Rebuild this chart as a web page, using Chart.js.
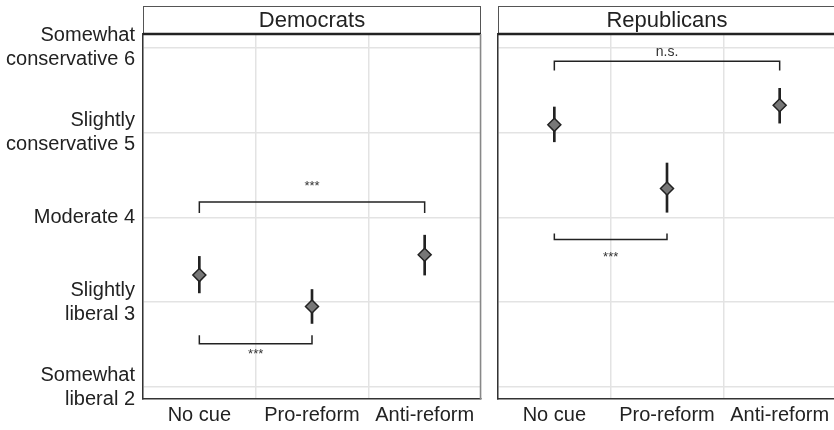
<!DOCTYPE html>
<html>
<head>
<meta charset="utf-8">
<script src="https://cdn.jsdelivr.net/npm/chart.js@4.4.0/dist/chart.umd.min.js"></script>
<style>
  html, body { margin: 0; padding: 0; background: #fff; overflow: hidden; width: 834px; height: 430px; }
  canvas { position: absolute; top: 0; }
  #dem { left: 0; }
  #rep { left: 490px; }
</style>
</head>
<body>
<canvas id="dem" width="490" height="430"></canvas>
<canvas id="rep" width="346" height="430"></canvas>
<script>
const cues = ['No cue', 'Pro-reform', 'Anti-reform'];
const yTicks = [2, 3, 4, 5, 6];
const yLabels = [
  ['Somewhat', 'liberal 2'],
  ['Slightly', 'liberal 3'],
  'Moderate 4',
  ['Slightly', 'conservative 5'],
  ['Somewhat', 'conservative 6']
];

const demMean = [3.32, 2.95, 3.56];
const demLow = [3.11, 2.75, 3.32];
const demHigh = [3.54, 3.15, 3.79];

const repMean = [5.09, 4.34, 5.32];
const repLow = [4.89, 4.06, 5.11];
const repHigh = [5.30, 4.64, 5.52];

// [from cue, to cue, bracket level, tick end, label, label level]
const demBrackets = [[1, 3, 4.18, 4.05, '***', 4.36], [1, 2, 2.51, 2.61, '***', 2.38]];
const repBrackets = [[1, 3, 5.84, 5.73, 'n.s.', 5.95], [1, 2, 3.74, 3.81, '***', 3.53]];

const FONT = "'Liberation Sans', Arial, Helvetica, sans-serif";
const INK = '#222';
const GRID = '#e3e3e3';

const panelDecor = {
  id: 'panelDecor',
  afterDraw(chart, args, opts) {
    const { ctx, chartArea: a, scales } = chart;
    ctx.save();
    // facet strip
    ctx.strokeStyle = '#555';
    ctx.lineWidth = 1;
    ctx.strokeRect(a.left + 0.5, 6.5, a.right - a.left - 1, a.top - 6);
    ctx.beginPath();
    ctx.moveTo(a.left, a.top);
    ctx.lineTo(a.right, a.top);
    ctx.strokeStyle = INK;
    ctx.lineWidth = 2.5;
    ctx.stroke();
    ctx.fillStyle = INK;
    ctx.font = '22px ' + FONT;
    ctx.textAlign = 'center';
    ctx.textBaseline = 'middle';
    ctx.fillText(opts.title, (a.left + a.right) / 2, (6 + a.top) / 2 + 1);
    // right panel border
    ctx.beginPath();
    ctx.moveTo(a.right - 0.5, a.top);
    ctx.lineTo(a.right - 0.5, a.bottom);
    ctx.strokeStyle = '#888';
    ctx.lineWidth = 1.5;
    ctx.stroke();
    // significance labels
    ctx.fillStyle = '#333';
    opts.brackets.forEach(b => {
      ctx.font = (b[4] === 'n.s.' ? '14px ' : '13px ') + FONT;
      ctx.fillText(b[4], scales.x.getPixelForValue((b[0] + b[1]) / 2), scales.y.getPixelForValue(b[5]));
    });
    ctx.restore();
  }
};

function makePanel(id, title, mean, low, high, brackets, showY) {
  const datasets = [
    {
      type: 'bar',
      data: cues.map((c, i) => ({ x: i + 1, y: [low[i], high[i]] })),
      backgroundColor: INK,
      barThickness: 2,
      order: 2
    },
    {
      type: 'scatter',
      data: cues.map((c, i) => ({ x: i + 1, y: mean[i] })),
      pointStyle: 'rectRot',
      pointRadius: 6.5,
      backgroundColor: '#777',
      borderColor: INK,
      borderWidth: 1.5,
      order: 1
    }
  ];
  brackets.forEach(b => {
    datasets.push({
      type: 'line',
      data: [{ x: b[0], y: b[3] }, { x: b[0], y: b[2] }, { x: b[1], y: b[2] }, { x: b[1], y: b[3] }],
      borderColor: INK,
      borderWidth: 1.5,
      pointRadius: 0,
      fill: false,
      order: 3
    });
  });

  return new Chart(document.getElementById(id), {
    type: 'scatter',
    data: { datasets },
    plugins: [panelDecor],
    options: {
      responsive: false,
      animation: false,
      layout: { autoPadding: false, padding: { top: 34, right: showY ? 9 : 0, left: 0, bottom: 0 } },
      plugins: {
        legend: { display: false },
        tooltip: { enabled: false },
        panelDecor: { title, brackets }
      },
      scales: {
        x: {
          type: 'linear',
          min: 0.5,
          max: 3.5,
          offset: false,
          afterBuildTicks: s => { s.ticks = cues.map((c, i) => ({ value: i + 1 })); },
          afterFit: s => {
            s.height = 31;
            s.paddingLeft = 0;
            s.paddingRight = 0;
          },
          ticks: {
            callback: v => cues[v - 1],
            font: { family: FONT, size: 20 },
            color: INK,
            padding: 4,
            maxRotation: 0,
            autoSkip: false
          },
          grid: { color: GRID, lineWidth: 1.5, drawTicks: false },
          border: { color: '#333', width: 1.5 }
        },
        y: {
          min: 1.86,
          max: 6.16,
          afterBuildTicks: s => { s.ticks = yTicks.map(v => ({ value: v })); },
          afterFit: s => {
            s.width = showY ? 143 : 8;
            s.paddingTop = 0;
            s.paddingBottom = 0;
          },
          ticks: {
            display: showY,
            callback: v => yLabels[yTicks.indexOf(v)],
            font: { family: FONT, size: 20, lineHeight: 1.2 },
            color: INK,
            padding: 8
          },
          grid: { color: GRID, lineWidth: 1.5, drawTicks: false },
          border: { color: '#333', width: 1.5 }
        }
      }
    }
  });
}

makePanel('dem', 'Democrats', demMean, demLow, demHigh, demBrackets, true);
makePanel('rep', 'Republicans', repMean, repLow, repHigh, repBrackets, false);
</script>
</body>
</html>
